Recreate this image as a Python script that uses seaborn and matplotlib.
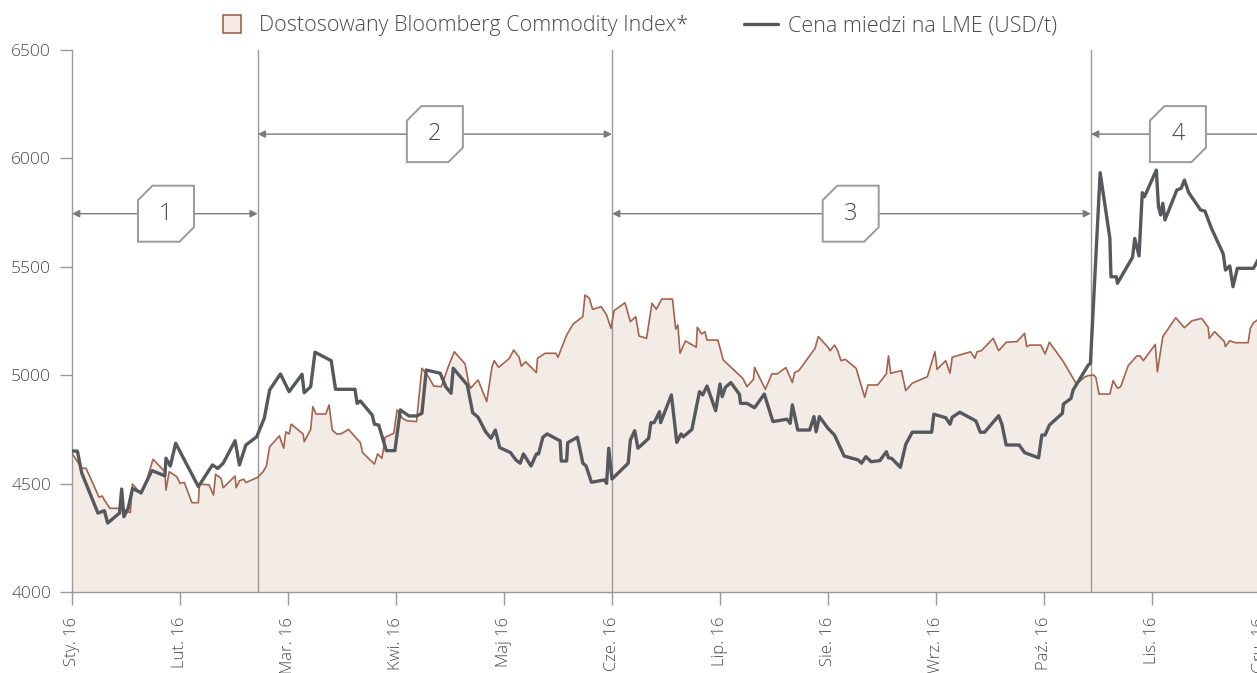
import matplotlib
matplotlib.use("Agg")
import matplotlib.pyplot as plt
import matplotlib.transforms as mtransforms
from matplotlib.patches import Polygon
from matplotlib.lines import Line2D
import pandas as pd
import seaborn as sns

# ─── data (x = months since Jan 2016) ───────────────────────────────────────
MONTH_LABELS = ["Sty. 16", "Lut. 16", "Mar. 16", "Kwi. 16", "Maj 16", "Cze. 16",
                "Lip. 16", "Sie. 16", "Wrz. 16", "Paź. 16", "Lis. 16", "Gru. 16"]

copper_x = [0.00, 0.05, 0.09, 0.24, 0.30, 0.33, 0.44, 0.46, 0.48, 0.52, 0.56, 0.64,
            0.74, 0.86, 0.87, 0.91, 0.96, 1.17, 1.30, 1.35, 1.40, 1.51, 1.55, 1.61,
            1.71, 1.78, 1.83, 1.93, 2.01, 2.13, 2.15, 2.21, 2.25, 2.40, 2.44, 2.62,
            2.64, 2.67, 2.78, 2.80, 2.84, 2.91, 2.99, 3.04, 3.12, 3.19, 3.24, 3.28,
            3.41, 3.46, 3.51, 3.53, 3.66, 3.71, 3.76, 3.83, 3.88, 3.92, 3.96, 4.06,
            4.11, 4.15, 4.18, 4.25, 4.30, 4.32, 4.36, 4.40, 4.52, 4.53, 4.58, 4.59,
            4.68, 4.73, 4.76, 4.81, 4.93, 4.95, 4.97, 5.00, 5.15, 5.17, 5.21, 5.24,
            5.34, 5.36, 5.39, 5.44, 5.45, 5.55, 5.60, 5.64, 5.66, 5.74, 5.81, 5.84,
            5.88, 5.96, 6.00, 6.02, 6.05, 6.10, 6.18, 6.19, 6.25, 6.32, 6.41, 6.49,
            6.62, 6.65, 6.67, 6.72, 6.83, 6.87, 6.89, 6.92, 7.00, 7.06, 7.15, 7.28,
            7.31, 7.35, 7.40, 7.48, 7.54, 7.56, 7.59, 7.67, 7.72, 7.78, 7.96, 7.98,
            8.09, 8.13, 8.15, 8.22, 8.37, 8.41, 8.45, 8.58, 8.61, 8.65, 8.77, 8.82,
            8.95, 8.98, 9.01, 9.05, 9.17, 9.18, 9.25, 9.27, 9.41, 9.43, 9.52, 9.61,
            9.62, 9.67, 9.68, 9.82, 9.84, 9.88, 9.91, 9.93, 10.04, 10.06, 10.08,
            10.10, 10.12, 10.23, 10.27, 10.30, 10.34, 10.45, 10.49, 10.55, 10.66,
            10.68, 10.72, 10.75, 10.79, 10.94, 10.99]
copper = [4650, 4650, 4549, 4364, 4375, 4318, 4364, 4475, 4347, 4386, 4477, 4458,
          4560, 4536, 4617, 4581, 4686, 4486, 4586, 4570, 4594, 4698, 4586, 4678,
          4716, 4801, 4932, 5006, 4924, 5004, 4919, 4947, 5106, 5067, 4935, 4935,
          4870, 4881, 4816, 4774, 4770, 4652, 4652, 4840, 4812, 4812, 4824, 5024,
          5009, 4947, 4917, 5032, 4955, 4827, 4806, 4739, 4709, 4747, 4666, 4643,
          4609, 4594, 4637, 4581, 4637, 4637, 4714, 4729, 4697, 4604, 4604, 4689,
          4714, 4594, 4581, 4506, 4517, 4501, 4663, 4521, 4594, 4701, 4744, 4663,
          4709, 4781, 4781, 4832, 4781, 4909, 4690, 4729, 4716, 4750, 4924, 4909,
          4950, 4836, 4959, 4901, 4944, 4966, 4912, 4870, 4870, 4850, 4913, 4786,
          4797, 4778, 4863, 4747, 4747, 4809, 4739, 4809, 4755, 4724, 4627, 4609,
          4594, 4624, 4601, 4606, 4647, 4619, 4616, 4575, 4681, 4737, 4737, 4820,
          4804, 4774, 4806, 4829, 4789, 4737, 4737, 4813, 4774, 4678, 4678, 4643,
          4619, 4724, 4724, 4770, 4824, 4867, 4893, 4932, 5047, 5055, 5934, 5631,
          5454, 5454, 5424, 5544, 5631, 5550, 5842, 5823, 5946, 5777, 5739,
          5793, 5716, 5854, 5862, 5900, 5842, 5762, 5757, 5678, 5559,
          5485, 5504, 5408, 5493, 5493, 5540]

bcom_x = [0.00, 0.09, 0.13, 0.25, 0.28, 0.30, 0.35, 0.43, 0.49, 0.54, 0.56, 0.64,
          0.70, 0.75, 0.86, 0.87, 0.90, 0.97, 1.00, 1.04, 1.11, 1.17, 1.18, 1.27,
          1.31, 1.33, 1.38, 1.40, 1.51, 1.52, 1.55, 1.59, 1.61, 1.72, 1.77, 1.80,
          1.83, 1.92, 1.96, 1.98, 2.01, 2.03, 2.14, 2.15, 2.21, 2.23, 2.26, 2.35,
          2.38, 2.41, 2.45, 2.49, 2.56, 2.67, 2.69, 2.80, 2.83, 2.87, 2.90, 2.98,
          3.01, 3.06, 3.10, 3.19, 3.24, 3.30, 3.35, 3.42, 3.49, 3.54, 3.64, 3.67,
          3.69, 3.76, 3.84, 3.89, 3.91, 3.95, 4.05, 4.09, 4.14, 4.16, 4.20, 4.30,
          4.31, 4.38, 4.48, 4.50, 4.58, 4.64, 4.73, 4.75, 4.79, 4.82, 4.90, 4.95,
          4.99, 5.02, 5.12, 5.17, 5.22, 5.25, 5.32, 5.37, 5.41, 5.46, 5.56, 5.59,
          5.61, 5.63, 5.68, 5.78, 5.79, 5.83, 5.86, 5.88, 5.98, 6.03, 6.21, 6.25,
          6.31, 6.32, 6.42, 6.48, 6.53, 6.61, 6.67, 6.69, 6.73, 6.88, 6.91, 7.00,
          7.02, 7.06, 7.09, 7.12, 7.16, 7.26, 7.34, 7.37, 7.46, 7.54, 7.56, 7.58,
          7.68, 7.72, 7.78, 7.92, 7.99, 8.01, 8.09, 8.13, 8.15, 8.32, 8.36, 8.38,
          8.42, 8.53, 8.58, 8.65, 8.75, 8.82, 8.84, 8.87, 8.97, 9.01, 9.05, 9.18,
          9.30, 9.38, 9.41, 9.46, 9.48, 9.51, 9.61, 9.64, 9.68, 9.71, 9.78, 9.86,
          9.89, 9.92, 10.03, 10.05, 10.10, 10.22, 10.30, 10.37, 10.46, 10.52, 10.53,
          10.58, 10.67, 10.68, 10.72, 10.77, 10.89, 10.91, 10.94, 10.99]
bcom = [4640, 4571, 4571, 4437, 4443, 4424, 4386, 4386, 4378, 4366, 4498, 4452,
        4529, 4612, 4555, 4470, 4555, 4532, 4501, 4505, 4412, 4412, 4498, 4494,
        4447, 4543, 4524, 4481, 4535, 4481, 4513, 4520, 4505, 4529, 4555, 4581,
        4670, 4720, 4663, 4739, 4729, 4774, 4729, 4693, 4750, 4855, 4821, 4821,
        4863, 4747, 4729, 4729, 4750, 4689, 4643, 4590, 4637, 4617, 4714, 4732,
        4840, 4801, 4790, 4786, 5032, 4993, 4950, 4947, 5047, 5108, 5052, 4970,
        4940, 4978, 4878, 5042, 5067, 5036, 5078, 5116, 5083, 5042, 5062, 5012,
        5078, 5101, 5101, 5083, 5185, 5236, 5270, 5370, 5355, 5304, 5316, 5278,
        5216, 5298, 5334, 5247, 5270, 5181, 5170, 5332, 5304, 5351, 5351, 5212,
        5232, 5101, 5158, 5129, 5221, 5190, 5201, 5162, 5162, 5070, 4986, 4947,
        4981, 5036, 4935, 5006, 5006, 5035, 4966, 5012, 5021, 5124, 5178, 5129,
        5113, 5139, 5113, 5067, 5073, 5032, 4898, 4955, 4955, 5006, 5089, 5009,
        5021, 4929, 4963, 4993, 5108, 5027, 5067, 5009, 5083, 5108, 5078, 5108,
        5113, 5170, 5113, 5152, 5155, 5193, 5132, 5139, 5139, 5098, 5152, 5062,
        4959, 4993, 4998, 5001, 4990, 4913, 4913, 4975, 4940, 4947, 5044, 5089,
        5089, 5067, 5142, 5016, 5178, 5265, 5219, 5251, 5262, 5221, 5170,
        5201, 5155, 5132, 5159, 5150, 5150, 5216, 5242, 5260]

# period boundaries (months) and callouts
PERIOD_EDGES = [0.0, 1.72, 5.0, 9.435, 11.6]
PERIOD_LABELS = ["1", "2", "3", "4"]
PERIOD_ARROW_Y = [5745, 6112, 5745, 6112]
PERIOD_BOX_X = [0.87, 3.36, 7.21, 10.24]

# ─── style ──────────────────────────────────────────────────────────────────
BROWN = "#a3634c"
BEIGE = "#f3ebe6"
DARK = "#55595e"
GREY = "#9a9a9a"
TXT = "#4a4a4a"

sns.set_theme(style="white")
plt.rcParams["font.family"] = ["Open Sans", "DejaVu Sans"]

df_cu = pd.DataFrame({"x": copper_x, "y": copper})
df_bc = pd.DataFrame({"x": bcom_x, "y": bcom})

fig = plt.figure(figsize=(12.57, 6.73), dpi=100)
ax = fig.add_axes([72 / 1257, 81 / 673, 1188 / 1257, 542 / 673])

ax.fill_between(df_bc["x"], 4000, df_bc["y"], color=BEIGE, lw=0, zorder=1)
sns.lineplot(data=df_bc, x="x", y="y", ax=ax, color=BROWN, lw=1.2,
             sort=False, estimator=None, zorder=3)
sns.lineplot(data=df_cu, x="x", y="y", ax=ax, color=DARK, lw=2.4,
             sort=False, estimator=None, zorder=4)

for xv in PERIOD_EDGES[1:4]:
    ax.axvline(xv, color=GREY, lw=1, zorder=2)

# arrows + callout boxes
h, c = 0.28, 0.145
box_shape = [(-h + c, h), (h, h), (h, -h + c), (h - c, -h), (-h, -h), (-h, h - c)]
for i, lab in enumerate(PERIOD_LABELS):
    y = PERIOD_ARROW_Y[i]
    ax.annotate("", xy=(PERIOD_EDGES[i], y), xytext=(PERIOD_EDGES[i + 1], y),
                xycoords="data", annotation_clip=False,
                arrowprops=dict(arrowstyle="<|-|>", color="#7a7a7a", lw=1,
                                mutation_scale=11, shrinkA=0, shrinkB=0),
                zorder=5)
    trans = fig.dpi_scale_trans + mtransforms.ScaledTranslation(
        PERIOD_BOX_X[i], y, ax.transData)
    ax.add_patch(Polygon(box_shape, closed=True, transform=trans, facecolor="white",
                         edgecolor=GREY, lw=1.4, zorder=6, clip_on=False))
    ax.text(PERIOD_BOX_X[i], y, lab, ha="center", va="center", fontsize=17,
            color=TXT, fontweight="light", zorder=7)

ax.set_xlim(0, 11)
ax.set_ylim(4000, 6500)
ax.set_xticks(range(12))
ax.set_xticklabels(MONTH_LABELS, rotation=90)
ax.set_yticks(range(4000, 6501, 500))
ax.set_xlabel("")
ax.set_ylabel("")
ax.tick_params(axis="both", bottom=True, left=True, direction="out", length=9,
               width=1, color=GREY, labelcolor=TXT)
ax.tick_params(axis="x", pad=9, labelsize=12)
ax.tick_params(axis="y", pad=6, labelsize=12.5)
for s in ["top", "right"]:
    ax.spines[s].set_visible(False)
for s in ["left", "bottom"]:
    ax.spines[s].set_color(GREY)
    ax.spines[s].set_linewidth(1)
for t in ax.get_xticklabels() + ax.get_yticklabels():
    t.set_fontweight("light")

handles = [Line2D([], [], marker="s", markersize=13, markerfacecolor=BEIGE,
                  markeredgecolor=BROWN, markeredgewidth=1.2, linestyle="none"),
           Line2D([0], [0], color=DARK, lw=2.4)]
fig.legend(handles, ["Dostosowany Bloomberg Commodity Index*", "Cena miedzi na LME (USD/t)"],
           loc="upper center", bbox_to_anchor=(0.506, 1.006), ncol=2, frameon=False,
           labelcolor=TXT, handlelength=1.6, handletextpad=0.45,
           columnspacing=2.6, prop={"weight": "light", "size": 15.5})

fig.savefig("out.png", dpi=100)
